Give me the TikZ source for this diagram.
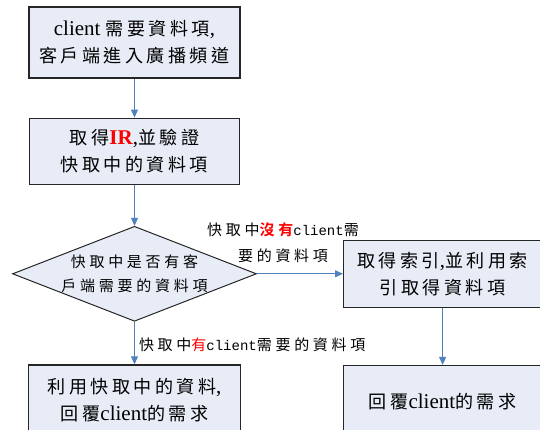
\documentclass[tikz,border=0pt]{standalone}
\usepackage{fontspec}
\setmainfont{Liberation Serif}
\setmonofont{Liberation Mono}
\newfontfamily\zhbox[Scale=0.86,LetterSpace=19]{Noto Sans CJK TC}
\newfontfamily\zhlab[Scale=1.07,LetterSpace=25,BoldFont={Noto Sans CJK TC Bold}]{Noto Sans CJK TC}
\usetikzlibrary{positioning,arrows.meta,shapes.geometric}
\definecolor{boxfill}{RGB}{231,236,247}
\definecolor{flowblue}{RGB}{79,129,189}
\definecolor{hotred}{RGB}{255,0,0}
\newcommand{\lat}[1]{{\rmfamily #1}}
\newcommand{\code}[1]{{\ttfamily #1}}

\begin{document}
\begin{tikzpicture}[
    x=1pt, y=-1pt,
    >={Triangle[length=8pt,width=7pt]},
    block/.style={draw=black!85, line width=1.2pt, fill=boxfill, align=center,
                  inner sep=0pt, font=\fontsize{21}{27}\selectfont\zhbox},
    cond/.style={diamond, aspect=2.57, draw=black!85, line width=1pt, fill=boxfill, align=center,
                 inner xsep=-12pt, inner ysep=-6pt, minimum width=244pt, minimum height=95pt,
                 font=\fontsize{14}{24}\selectfont\zhlab},
    lab/.style={align=center, inner sep=1pt, text=black, font=\fontsize{14}{26}\selectfont\zhlab},
    arrow/.style={->, line width=1pt, flowblue},
]
    \useasboundingbox (0,0) rectangle (540,430);
    \clip (0,0) rectangle (540,430);

    % Main flow
    \node[block, minimum width=211pt, minimum height=71pt] (need) at (134.5,42.5)
        {\lat{client }需要資料項\lat{,}\\客戶端進入廣播頻道};
    \node[block, minimum width=210pt, minimum height=66pt, below=39pt of need] (getir)
        {取得\textcolor{hotred}{\lat{\bfseries IR}}\lat{,}並驗證\\快取中的資料項};
    \node[cond, below=41pt of getir] (ask) {快取中是否有客\\戶端需要的資料項};
    \node[block, minimum width=212pt, minimum height=71pt, below=42.5pt of ask] (usecache)
        {利用快取中的資料\lat{,}\\回覆\lat{client}的需求};

    % Miss branch
    \node[block, minimum width=198pt, minimum height=67pt, right=86pt of ask] (index)
        {取得索引\lat{,}並利用索\\引取得資料項};
    \node[block, minimum width=198pt, minimum height=72pt, below=57pt of index] (reply)
        {回覆\lat{client}的需求};

    % Arrows
    \draw[arrow] (need) -- (getir);
    \draw[arrow] (getir) -- (ask);
    \draw[arrow] (ask) -- node[lab, right, xshift=3pt, yshift=-2pt]
        {快取中\textcolor{hotred}{有}\code{client}需要的資料項} (usecache);
    \draw[arrow] (ask) -- node[lab, midway, xshift=-17pt, yshift=31pt]
        {快取中\textcolor{hotred}{\bfseries 沒有}\code{client}需\\要的資料項} (index);
    \draw[arrow] (index) -- (reply);
\end{tikzpicture}
\end{document}
